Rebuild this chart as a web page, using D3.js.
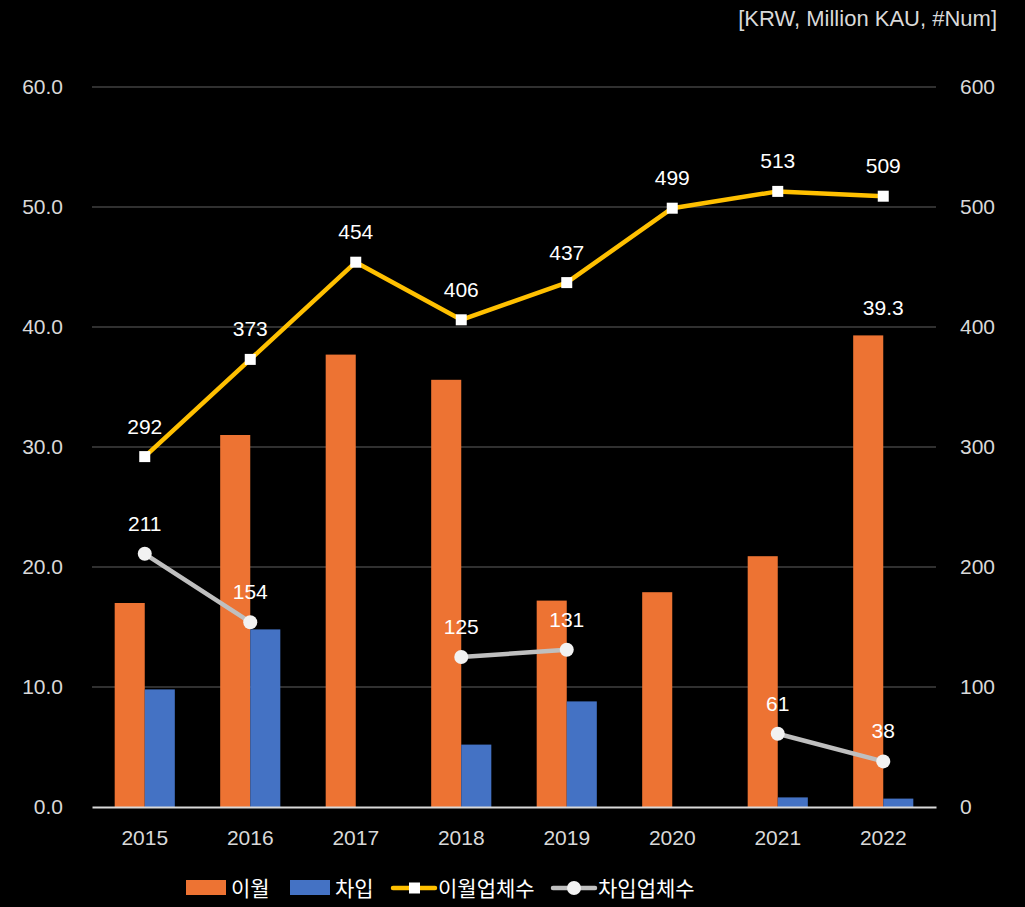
<!DOCTYPE html>
<html>
<head>
<meta charset="utf-8">
<script src="https://cdn.jsdelivr.net/npm/d3@7"></script>
<style>
  body { margin: 0; background: #000; }
  svg { display: block; font-family: "Liberation Sans", Arial, "Noto Sans CJK KR", sans-serif; }
</style>
</head>
<body>
<svg id="chart" width="1025" height="907"></svg>
<script>
// chart data
var years = ["2015", "2016", "2017", "2018", "2019", "2020", "2021", "2022"];
var carryOver = [17.0, 31.0, 37.7, 35.6, 17.2, 17.9, 20.9, 39.3];      // 이월
var borrow = [9.8, 14.8, null, 5.2, 8.8, null, 0.8, 0.7];              // 차입
var carryOverCount = [292, 373, 454, 406, 437, 499, 513, 509];         // 이월업체수
var borrowCount = [211, 154, null, 125, 131, null, 61, 38];            // 차입업체수
var leftTicks = [0, 10, 20, 30, 40, 50, 60];
var rightTicks = [0, 100, 200, 300, 400, 500, 600];
var seriesNames = ["이월", "차입", "이월업체수", "차입업체수"];

var svg = d3.select("#chart");
// plot area (note: "top" is taken by window.top, so use other names)
var plotL = 92, plotR = 936, plotT = 87, plotB = 807;
var fs = "21px";

var x = d3.scaleBand().domain(years).range([plotL, plotR]).paddingInner(0.43).paddingOuter(0.215);
var xs = d3.scaleBand().domain(["a", "b"]).range([0, x.bandwidth()]);
var yL = d3.scaleLinear().domain([0, 60]).range([plotB, plotT]);
var yR = d3.scaleLinear().domain([0, 600]).range([plotB, plotT]);
var cx = function(y) { return x(y) + x.bandwidth() / 2; };

// gridlines
svg.append("g").selectAll("line").data(leftTicks.slice(1)).enter().append("line")
  .attr("x1", plotL).attr("x2", plotR)
  .attr("y1", function(d) { return yL(d); }).attr("y2", function(d) { return yL(d); })
  .attr("stroke", "#404040").attr("stroke-width", 1.5);

// left axis
var axL = svg.append("g").attr("transform", "translate(" + plotL + ",0)")
  .call(d3.axisLeft(yL).tickValues(leftTicks).tickFormat(d3.format(".1f")).tickSize(0).tickPadding(29));
axL.select(".domain").remove();
axL.selectAll("text").attr("fill", "#d9d9d9").style("font-size", fs).style("font-family", "Liberation Sans, Arial");

// right axis
var axR = svg.append("g").attr("transform", "translate(" + plotR + ",0)")
  .call(d3.axisRight(yR).tickValues(rightTicks).tickFormat(d3.format("d")).tickSize(0).tickPadding(24));
axR.select(".domain").remove();
axR.selectAll("text").attr("fill", "#d9d9d9").style("font-size", fs).style("font-family", "Liberation Sans, Arial");

// bars
var bars = svg.append("g");
bars.selectAll(".bar1").data(years).enter().append("rect")
  .attr("x", function(d) { return x(d) + xs("a"); })
  .attr("width", xs.bandwidth())
  .attr("y", function(d, i) { return yL(carryOver[i]); })
  .attr("height", function(d, i) { return plotB - yL(carryOver[i]); })
  .attr("fill", "#ed7333");
bars.selectAll(".bar2").data(years.filter(function(d, i) { return borrow[i] != null; })).enter().append("rect")
  .attr("x", function(d) { return x(d) + xs("b"); })
  .attr("width", xs.bandwidth())
  .attr("y", function(d) { return yL(borrow[years.indexOf(d)]); })
  .attr("height", function(d) { return plotB - yL(borrow[years.indexOf(d)]); })
  .attr("fill", "#4472c4");

// x axis
var axX = svg.append("g").attr("transform", "translate(0," + plotB + ")")
  .call(d3.axisBottom(x).tickSize(0).tickPadding(23));
axX.select(".domain").attr("stroke", "#d9d9d9").attr("stroke-width", 2);
axX.selectAll("text").attr("fill", "#d9d9d9").style("font-size", fs).style("font-family", "Liberation Sans, Arial");

// label on last bar
svg.append("text").attr("x", cx("2022")).attr("y", yL(carryOver[7]) - 20)
  .attr("text-anchor", "middle").attr("fill", "#fff").style("font-size", fs)
  .text(carryOver[7].toFixed(1));

// lines
var line = d3.line()
  .defined(function(d) { return d.v != null; })
  .x(function(d) { return cx(d.year); })
  .y(function(d) { return yR(d.v); });

var yellowPts = years.map(function(y, i) { return { year: y, v: carryOverCount[i] }; });
var greyPts = years.map(function(y, i) { return { year: y, v: borrowCount[i] }; });

svg.append("path").datum(yellowPts).attr("d", line)
  .attr("fill", "none").attr("stroke", "#ffc000").attr("stroke-width", 4.5).attr("stroke-linejoin", "round");
svg.append("path").datum(greyPts).attr("d", line)
  .attr("fill", "none").attr("stroke", "#bfbfbf").attr("stroke-width", 4.5).attr("stroke-linejoin", "round");

svg.append("g").selectAll("rect").data(yellowPts).enter().append("rect")
  .attr("x", function(d) { return cx(d.year) - 5.5; })
  .attr("y", function(d) { return yR(d.v) - 5.5; })
  .attr("width", 11).attr("height", 11).attr("fill", "#fff");
svg.append("g").selectAll("circle").data(greyPts.filter(function(d) { return d.v != null; })).enter().append("circle")
  .attr("cx", function(d) { return cx(d.year); })
  .attr("cy", function(d) { return yR(d.v); })
  .attr("r", 7).attr("fill", "#f2f2f2");

// point labels
svg.append("g").selectAll("text").data(yellowPts).enter().append("text")
  .attr("x", function(d) { return cx(d.year); })
  .attr("y", function(d) { return yR(d.v) - 23; })
  .attr("text-anchor", "middle").attr("fill", "#fff").style("font-size", fs)
  .text(function(d) { return d.v; });
svg.append("g").selectAll("text").data(greyPts.filter(function(d) { return d.v != null; })).enter().append("text")
  .attr("x", function(d) { return cx(d.year); })
  .attr("y", function(d) { return yR(d.v) - 23; })
  .attr("text-anchor", "middle").attr("fill", "#fff").style("font-size", fs)
  .text(function(d) { return d.v; });

// unit label
svg.append("text").attr("x", 997).attr("y", 26).attr("text-anchor", "end")
  .attr("fill", "#d9d9d9").style("font-size", "22px").text("[KRW, Million KAU, #Num]");

// legend
var lg = svg.append("g").attr("transform", "translate(0,888)");
var lx = [186, 290, 393, 553];
lg.append("rect").attr("x", lx[0]).attr("y", -8).attr("width", 40).attr("height", 15).attr("fill", "#ed7333");
lg.append("rect").attr("x", lx[1]).attr("y", -8).attr("width", 40).attr("height", 15).attr("fill", "#4472c4");
lg.append("line").attr("x1", lx[2]).attr("x2", lx[2] + 42).attr("y1", 0).attr("y2", 0)
  .attr("stroke", "#ffc000").attr("stroke-width", 4.5).attr("stroke-linecap", "round");
lg.append("rect").attr("x", lx[2] + 16).attr("y", -5.5).attr("width", 11).attr("height", 11).attr("fill", "#fff");
lg.append("line").attr("x1", lx[3]).attr("x2", lx[3] + 42).attr("y1", 0).attr("y2", 0)
  .attr("stroke", "#bfbfbf").attr("stroke-width", 4.5).attr("stroke-linecap", "round");
lg.append("circle").attr("cx", lx[3] + 21).attr("cy", 0).attr("r", 7).attr("fill", "#f2f2f2");
lg.selectAll(".lt").data(seriesNames).enter().append("text")
  .attr("x", function(d, i) { return lx[i] + 45; })
  .attr("y", 8)
  .attr("fill", "#fff").style("font-size", "21px").style("font-family", "Noto Sans CJK KR")
  .text(function(d) { return d; });
</script>
</body>
</html>
